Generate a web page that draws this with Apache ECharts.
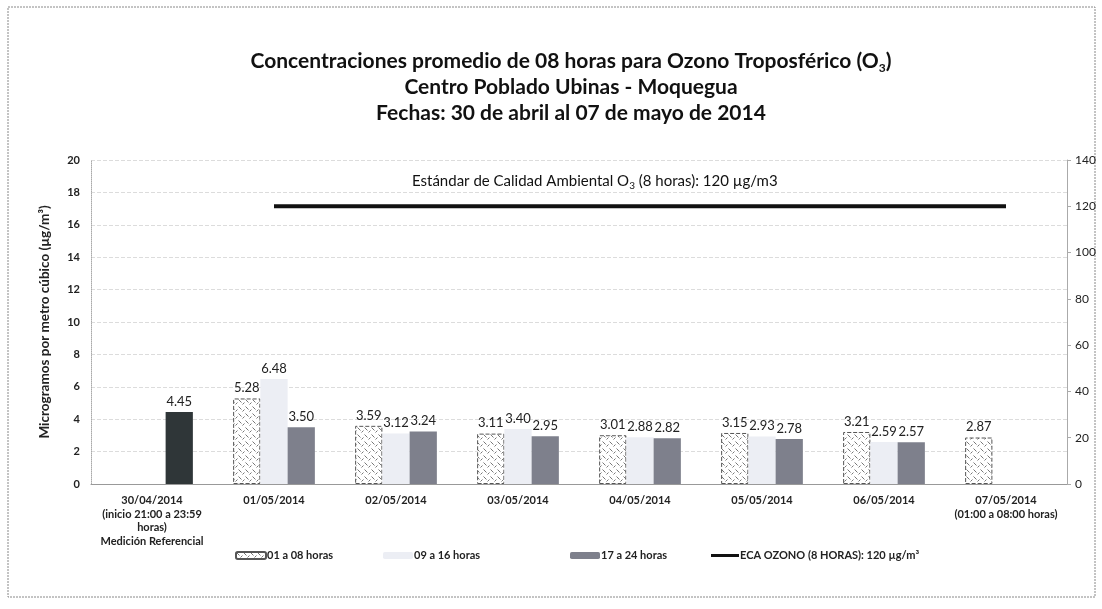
<!DOCTYPE html>
<html>
<head>
<meta charset="utf-8">
<script src="https://cdn.jsdelivr.net/npm/echarts@6/dist/echarts.min.js"></script>
<style>
    html, body { margin: 0; padding: 0; background: #fff; }
    #chart { width: 1102px; height: 609px; }
</style>
</head>
<body>
<div id="chart"></div>
<script>
    const categories = [
        '30/04/2014\n(inicio 21:00 a 23:59\nhoras)\nMedición Referencial',
        '01/05/2014', '02/05/2014', '03/05/2014', '04/05/2014',
        '05/05/2014', '06/05/2014',
        '07/05/2014\n(01:00 a 08:00 horas)'
    ];
    const seriesNames = ['01 a 08 horas', '09 a 16 horas', '17 a 24 horas', 'ECA OZONO (8 HORAS): 120 µg/m³'];
    const horas01a08 = [null, 5.28, 3.59, 3.11, 3.01, 3.15, 3.21, 2.87];
    const horas09a16 = [null, 6.48, 3.12, 3.40, 2.88, 2.93, 2.59, null];
    const horas17a24 = [4.45, 3.50, 3.24, 2.95, 2.82, 2.78, 2.57, null];
    const ecaOzono = [null, 120, 120, 120, 120, 120, 120, 120];

    const font = 'Lato, "Open Sans", sans-serif';

    // hatch pattern for the 01 a 08 horas bars
    function hatch() {
        const c = document.createElement('canvas');
        c.width = 7; c.height = 7;
        const g = c.getContext('2d');
        g.fillStyle = '#ffffff';
        g.fillRect(0, 0, 7, 7);
        g.strokeStyle = '#777';
        g.lineWidth = 1;
        g.beginPath();
        g.moveTo(0.5, 0.5); g.lineTo(3.5, 3.5);
        g.moveTo(4.5, 5.5); g.lineTo(6.5, 3.5);
        g.stroke();
        return c;
    }

    const label = {
        show: true,
        position: 'top',
        distance: 4,
        fontFamily: font,
        fontSize: 13,
        color: '#222',
        formatter: p => p.value == null ? '' : Number(p.value).toFixed(2)
    };

    const legendText = {fontFamily: font, fontSize: 11, fontWeight: 'bold', color: '#222', padding: [0, 0, 0, -4]};

    const chart = echarts.init(document.getElementById('chart'));
    chart.setOption({
        backgroundColor: '#fff',
        animation: false,
        title: {
            text: 'Concentraciones promedio de 08 horas para Ozono Troposférico (O{sub|3})\nCentro Poblado Ubinas - Moquegua\nFechas: 30 de abril al 07 de mayo de 2014',
            left: 566,
            textAlign: 'center',
            top: 43,
            textStyle: {
                fontFamily: font,
                fontSize: 21,
                fontWeight: 'bold',
                color: '#111',
                lineHeight: 26,
                rich: {
                    sub: {fontFamily: font, fontSize: 12, fontWeight: 'bold', color: '#111', verticalAlign: 'bottom', padding: [13, 0, 0, 0]}
                }
            }
        },
        graphic: [{
            type: 'rect',
            shape: {x: 8, y: 7, width: 1087, height: 590},
            style: {fill: 'none', stroke: '#888', lineWidth: 1, lineDash: [2, 1]},
            silent: true
        }, {
            type: 'text',
            left: 412,
            top: 174,
            style: {
                text: 'Estándar de Calidad Ambiental O{sub|3} (8 horas): 120 µg/m3',
                fontFamily: font,
                fontSize: 15,
                fill: '#111',
                rich: {sub: {fontFamily: font, fontSize: 10, fill: '#111', padding: [8, 0, 0, 0]}}
            }
        }],
        legend: [
            {data: [seriesNames[0]], left: 230, itemHeight: 7},
            {data: [seriesNames[1]], left: 378, itemHeight: 7},
            {data: [seriesNames[2]], left: 565, itemHeight: 7},
            {data: [{name: seriesNames[3], icon: 'rect'}], left: 706, itemHeight: 3, itemWidth: 28}
        ].map(l => Object.assign({
            top: 545,
            itemWidth: 30,
            itemGap: 4,
            textStyle: legendText
        }, l)),
        grid: {left: 91, right: 35, top: 160, bottom: 125},
        xAxis: {
            type: 'category',
            data: categories,
            axisLine: {lineStyle: {color: '#999'}},
            axisTick: {show: false},
            axisLabel: {
                interval: 0,
                margin: 10,
                fontFamily: font,
                fontSize: 11,
                fontWeight: 'bold',
                color: '#222',
                lineHeight: 13.5
            }
        },
        yAxis: [{
            type: 'value',
            min: 0,
            max: 20,
            interval: 2,
            name: 'Microgramos por metro cúbico (µg/m³)',
            nameLocation: 'middle',
            nameRotate: 90,
            nameGap: 39,
            nameMoveOverlap: false,
            nameTextStyle: {fontFamily: font, fontSize: 13.5, fontWeight: 'bold', color: '#222'},
            axisLine: {show: true, lineStyle: {color: '#aaa', type: 'dotted'}},
            axisTick: {show: false},
            axisLabel: {fontFamily: font, fontSize: 11, fontWeight: 'bold', color: '#222', margin: 11},
            splitLine: {lineStyle: {color: '#dcdcdc', type: 'dashed'}}
        }, {
            type: 'value',
            min: 0,
            max: 140,
            interval: 20,
            position: 'right',
            axisLine: {show: true, lineStyle: {color: '#aaa'}},
            axisTick: {show: true, length: 4, lineStyle: {color: '#aaa'}},
            axisLabel: {fontFamily: font, fontSize: 12, color: '#222', margin: 8},
            splitLine: {show: false}
        }],
        series: [{
            name: seriesNames[0],
            type: 'bar',
            barGap: '0%',
            barCategoryGap: '33%',
            data: horas01a08,
            itemStyle: {color: {image: hatch(), repeat: 'repeat'}, borderColor: '#555', borderWidth: 1, borderType: 'dashed'},
            label: label
        }, {
            name: seriesNames[1],
            type: 'bar',
            data: horas09a16,
            itemStyle: {color: '#eceef4'},
            label: label
        }, {
            name: seriesNames[2],
            type: 'bar',
            data: horas17a24.map((v, i) => i === 0 ? {value: v, itemStyle: {color: '#2f3638'}} : v),
            itemStyle: {color: '#7e808c'},
            label: label
        }, {
            name: seriesNames[3],
            type: 'line',
            yAxisIndex: 1,
            data: ecaOzono,
            symbol: 'none',
            lineStyle: {color: '#111', width: 4},
            itemStyle: {color: '#111'}
        }]
    });
</script>
</body>
</html>
